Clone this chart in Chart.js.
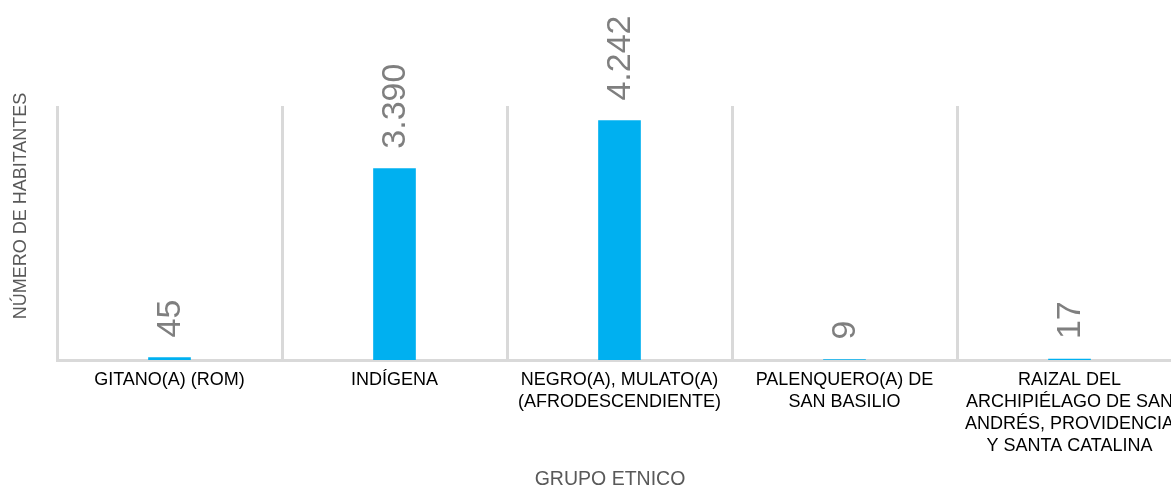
<!DOCTYPE html>
<html lang="es">

<head>
    <meta charset="UTF-8">
    <title>Grupo etnico</title>
    <script src="https://cdn.jsdelivr.net/npm/chart.js"></script>
    <style>
        body { margin: 0; overflow: hidden; background: #fff; }
        #caja { width: 1200px; height: 489px; }
    </style>
</head>

<body>
    <div id="caja">
        <canvas id="graficoEtnico"></canvas>
    </div>
</body>

</html>
<script>
    const grupos = [
        'GITANO(A) (ROM)',
        'INDÍGENA',
        ['NEGRO(A), MULATO(A)', '(AFRODESCENDIENTE)'],
        ['PALENQUERO(A) DE', 'SAN BASILIO'],
        ['RAIZAL DEL', 'ARCHIPIÉLAGO DE SAN', 'ANDRÉS, PROVIDENCIA', 'Y SANTA CATALINA']
    ]
    const habitantes = [45, 3390, 4242, 9, 17]
    const tituloX = 'GRUPO ETNICO'
    const tituloY = 'NÚMERO DE HABITANTES'

    const fuente = "'Liberation Sans', Arial, sans-serif"
    const gris = '#d9d9d9'

    function formatoNumero(v) {
        return String(v).replace(/\B(?=(\d{3})+(?!\d))/g, '.')
    }

    // etiquetas giradas encima de cada barra + titulos de los ejes
    const etiquetas = {
        id: 'etiquetas',
        afterDatasetsDraw(chart) {
            const ctx = chart.ctx
            const meta = chart.getDatasetMeta(0)
            ctx.save()
            ctx.fillStyle = '#7f7f7f'
            ctx.font = '34px ' + fuente
            ctx.textAlign = 'left'
            ctx.textBaseline = 'middle'
            meta.data.forEach(function (barra, i) {
                ctx.save()
                ctx.translate(barra.x + 1, barra.y - 20)
                ctx.rotate(-Math.PI / 2)
                ctx.fillText(formatoNumero(habitantes[i]), 0, 0)
                ctx.restore()
            })
            ctx.restore()
        },
        afterDraw(chart) {
            const ctx = chart.ctx
            ctx.save()
            ctx.fillStyle = '#595959'
            ctx.textAlign = 'center'
            ctx.textBaseline = 'middle'
            ctx.font = '19.5px ' + fuente
            ctx.fillText(tituloX, 610, 480)
            ctx.translate(21, 206)
            ctx.rotate(-Math.PI / 2)
            ctx.font = '18px ' + fuente
            ctx.fillText(tituloY, 0, 0)
            ctx.restore()
        }
    }

    new Chart(document.getElementById('graficoEtnico'), {
        type: 'bar',
        data: {
            labels: grupos,
            datasets: [
                {
                    data: habitantes,
                    backgroundColor: '#00b0f0',
                    borderWidth: 0,
                    barThickness: 42
                }
            ]
        },
        options: {
            responsive: true,
            maintainAspectRatio: false,
            animation: false,
            layout: {
                padding: { top: 106, left: 57, right: 18, bottom: 0 }
            },
            plugins: {
                legend: { display: false },
                tooltip: { enabled: false }
            },
            scales: {
                x: {
                    afterFit: function (escala) { escala.height = 129 },
                    grid: {
                        color: gris,
                        lineWidth: 3,
                        drawTicks: false,
                        offset: true
                    },
                    border: { color: gris, width: 3 },
                    ticks: {
                        color: '#000',
                        padding: 9,
                        maxRotation: 0,
                        autoSkip: false,
                        font: { family: fuente, size: 18, lineHeight: 1.22 }
                    }
                },
                y: {
                    display: false,
                    min: 0,
                    max: 4500
                }
            }
        },
        plugins: [etiquetas]
    });
</script>
